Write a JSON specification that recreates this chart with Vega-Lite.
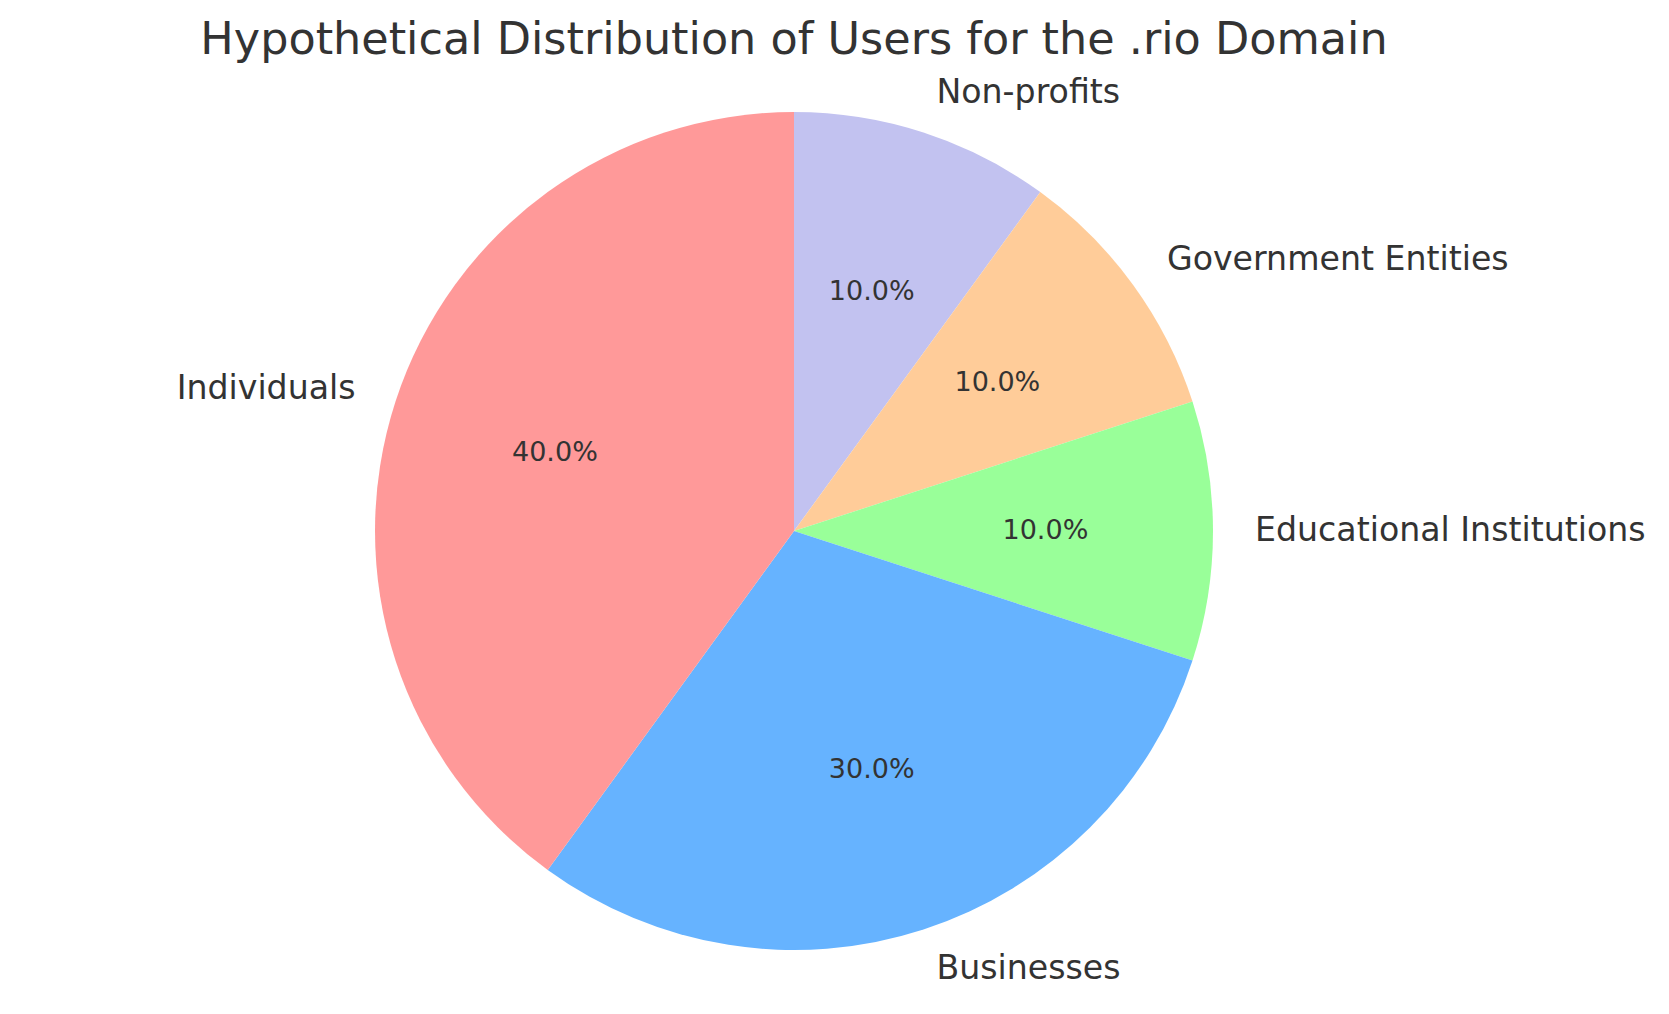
{
  "$schema": "https://vega.github.io/schema/vega-lite/v6.json",
  "width": 1588,
  "height": 966,
  "autosize": {"type": "none"},
  "padding": {"left": 0, "top": 48, "right": 81, "bottom": 0},
  "background": "white",
  "title": {
    "text": "Hypothetical Distribution of Users for the .rio Domain",
    "font": "DejaVu Sans",
    "fontSize": 44.5,
    "fontWeight": "normal",
    "color": "#333333",
    "anchor": "middle",
    "offset": -15
  },
  "config": {"view": {"stroke": null}},
  "data": {
    "values": [
      {"category": "Non-profits", "share": 10, "ord": 1, "pct": "10.0%"},
      {"category": "Government Entities", "share": 10, "ord": 2, "pct": "10.0%"},
      {"category": "Educational Institutions", "share": 10, "ord": 3, "pct": "10.0%"},
      {"category": "Businesses", "share": 30, "ord": 4, "pct": "30.0%"},
      {"category": "Individuals", "share": 40, "ord": 5, "pct": "40.0%"}
    ]
  },
  "encoding": {
    "theta": {"field": "share", "type": "quantitative", "stack": true},
    "order": {"field": "ord", "type": "quantitative"}
  },
  "layer": [
    {
      "mark": {"type": "arc", "outerRadius": 419},
      "encoding": {
        "color": {
          "field": "category",
          "type": "nominal",
          "scale": {
            "domain": ["Individuals", "Businesses", "Educational Institutions", "Government Entities", "Non-profits"],
            "range": ["#ff9999", "#66b3ff", "#99ff99", "#ffcc99", "#c2c2f0"]
          },
          "legend": null
        }
      }
    },
    {
      "mark": {"type": "text", "radius": 251.4, "font": "DejaVu Sans", "fontSize": 27, "color": "#333333", "align": "center", "baseline": "middle"},
      "encoding": {"text": {"field": "pct"}}
    },
    {
      "mark": {"type": "text", "radius": 461, "font": "DejaVu Sans", "fontSize": 33.2, "color": "#333333", "baseline": "middle",
        "align": {"expr": "datum.category === 'Individuals' ? 'right' : 'left'"}},
      "encoding": {"text": {"field": "category"}}
    }
  ]
}
